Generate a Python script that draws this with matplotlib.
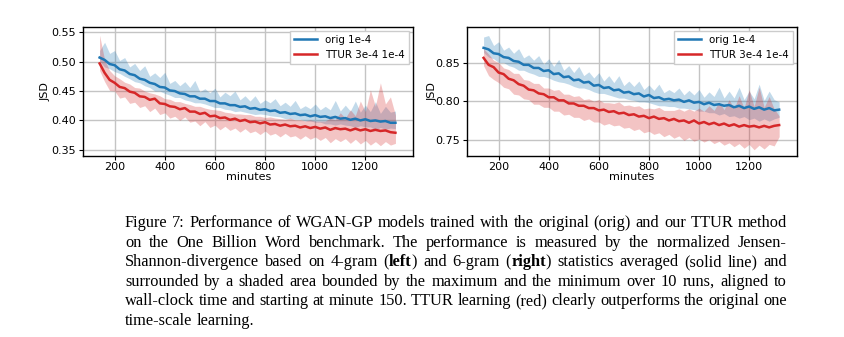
"""Recreate Figure 7: WGAN-GP JSD curves (orig vs TTUR) on One Billion Word."""

import matplotlib

matplotlib.use("Agg")
import matplotlib.pyplot as plt
from matplotlib.ticker import FormatStrFormatter


W, H = 845, 337

# minutes after start of training (wall-clock), one sample every 20 min
minutes = list(range(140, 1321, 20))

# ---- left panel: 4-gram JSD ----
orig4_mean = [0.507, 0.503, 0.496, 0.494, 0.487, 0.485, 0.479, 0.477, 0.471, 0.469,
              0.464, 0.462, 0.457, 0.456, 0.451, 0.450, 0.446, 0.445, 0.441, 0.441,
              0.437, 0.437, 0.433, 0.433, 0.429, 0.429, 0.426, 0.426, 0.423, 0.424,
              0.420, 0.421, 0.418, 0.419, 0.416, 0.417, 0.413, 0.414, 0.411, 0.412,
              0.409, 0.410, 0.407, 0.409, 0.406, 0.407, 0.404, 0.406, 0.403, 0.404,
              0.401, 0.403, 0.400, 0.402, 0.399, 0.400, 0.398, 0.399, 0.396, 0.396]
orig4_max = [0.519, 0.533, 0.514, 0.519, 0.502, 0.507, 0.491, 0.497, 0.485, 0.493,
             0.475, 0.481, 0.473, 0.482, 0.463, 0.468, 0.459, 0.466, 0.456, 0.468,
             0.449, 0.454, 0.447, 0.455, 0.440, 0.448, 0.442, 0.450, 0.435, 0.442,
             0.433, 0.442, 0.429, 0.435, 0.430, 0.437, 0.425, 0.431, 0.424, 0.434,
             0.420, 0.425, 0.420, 0.428, 0.418, 0.424, 0.418, 0.434, 0.416, 0.426,
             0.416, 0.433, 0.414, 0.426, 0.415, 0.432, 0.412, 0.424, 0.414, 0.416]
orig4_min = [0.501, 0.491, 0.488, 0.483, 0.480, 0.475, 0.471, 0.466, 0.464, 0.459,
             0.456, 0.450, 0.450, 0.446, 0.443, 0.439, 0.439, 0.435, 0.433, 0.430,
             0.430, 0.428, 0.425, 0.422, 0.422, 0.419, 0.418, 0.415, 0.416, 0.414,
             0.412, 0.410, 0.411, 0.410, 0.408, 0.407, 0.406, 0.403, 0.403, 0.402,
             0.402, 0.399, 0.399, 0.397, 0.397, 0.394, 0.394, 0.392, 0.394, 0.392,
             0.391, 0.388, 0.391, 0.389, 0.389, 0.384, 0.388, 0.385, 0.387, 0.386]
ttur4_mean = [0.497, 0.481, 0.469, 0.464, 0.457, 0.455, 0.449, 0.447, 0.441, 0.440,
              0.435, 0.437, 0.429, 0.428, 0.424, 0.423, 0.419, 0.421, 0.415, 0.415,
              0.411, 0.413, 0.407, 0.408, 0.404, 0.405, 0.401, 0.403, 0.399, 0.401,
              0.397, 0.398, 0.395, 0.397, 0.393, 0.394, 0.391, 0.393, 0.390, 0.391,
              0.388, 0.390, 0.387, 0.389, 0.386, 0.388, 0.384, 0.387, 0.385, 0.386,
              0.383, 0.386, 0.383, 0.385, 0.382, 0.384, 0.382, 0.383, 0.380, 0.379]
ttur4_max = [0.545, 0.503, 0.485, 0.476, 0.471, 0.465, 0.462, 0.456, 0.455, 0.450,
             0.447, 0.445, 0.442, 0.437, 0.436, 0.432, 0.432, 0.429, 0.427, 0.424,
             0.424, 0.421, 0.419, 0.418, 0.417, 0.414, 0.413, 0.411, 0.411, 0.410,
             0.410, 0.407, 0.407, 0.405, 0.406, 0.404, 0.403, 0.402, 0.404, 0.401,
             0.401, 0.399, 0.401, 0.399, 0.399, 0.399, 0.404, 0.401, 0.413, 0.404,
             0.418, 0.408, 0.433, 0.415, 0.452, 0.424, 0.464, 0.428, 0.440, 0.409]
ttur4_min = [0.485, 0.466, 0.451, 0.450, 0.438, 0.440, 0.429, 0.431, 0.422, 0.425,
             0.415, 0.421, 0.410, 0.413, 0.404, 0.407, 0.400, 0.406, 0.397, 0.399,
             0.391, 0.398, 0.388, 0.392, 0.384, 0.390, 0.383, 0.387, 0.380, 0.386,
             0.379, 0.382, 0.376, 0.382, 0.375, 0.378, 0.372, 0.378, 0.372, 0.374,
             0.368, 0.374, 0.368, 0.372, 0.366, 0.371, 0.362, 0.369, 0.364, 0.369,
             0.361, 0.368, 0.360, 0.366, 0.358, 0.364, 0.357, 0.364, 0.358, 0.361]

# ---- right panel: 6-gram JSD ----
orig6_mean = [0.869, 0.867, 0.862, 0.861, 0.857, 0.856, 0.852, 0.851, 0.847, 0.847,
              0.843, 0.843, 0.839, 0.840, 0.835, 0.836, 0.831, 0.832, 0.827, 0.828,
              0.824, 0.825, 0.820, 0.821, 0.817, 0.818, 0.814, 0.815, 0.811, 0.812,
              0.809, 0.810, 0.806, 0.808, 0.804, 0.805, 0.802, 0.803, 0.801, 0.802,
              0.799, 0.801, 0.798, 0.799, 0.796, 0.798, 0.795, 0.796, 0.794, 0.795,
              0.792, 0.794, 0.791, 0.793, 0.790, 0.792, 0.789, 0.791, 0.788, 0.789]
orig6_max = [0.883, 0.885, 0.872, 0.877, 0.866, 0.870, 0.862, 0.868, 0.856, 0.860,
             0.853, 0.859, 0.848, 0.855, 0.845, 0.854, 0.840, 0.846, 0.837, 0.845,
             0.833, 0.838, 0.830, 0.837, 0.826, 0.833, 0.824, 0.833, 0.820, 0.826,
             0.819, 0.826, 0.815, 0.821, 0.814, 0.822, 0.811, 0.815, 0.811, 0.817,
             0.808, 0.814, 0.808, 0.815, 0.805, 0.812, 0.806, 0.818, 0.804, 0.813,
             0.804, 0.818, 0.802, 0.813, 0.803, 0.822, 0.801, 0.813, 0.802, 0.799]
orig6_min = [0.863, 0.857, 0.855, 0.850, 0.850, 0.846, 0.844, 0.840, 0.840, 0.837,
             0.835, 0.832, 0.832, 0.830, 0.827, 0.825, 0.824, 0.822, 0.819, 0.817,
             0.817, 0.815, 0.812, 0.810, 0.810, 0.808, 0.806, 0.804, 0.804, 0.802,
             0.801, 0.799, 0.799, 0.798, 0.796, 0.794, 0.794, 0.793, 0.793, 0.791,
             0.791, 0.790, 0.789, 0.787, 0.787, 0.785, 0.785, 0.782, 0.784, 0.780,
             0.781, 0.778, 0.780, 0.776, 0.778, 0.774, 0.777, 0.774, 0.777, 0.779]
ttur6_mean = [0.856, 0.847, 0.844, 0.837, 0.835, 0.829, 0.827, 0.822, 0.820, 0.815,
              0.814, 0.810, 0.809, 0.805, 0.805, 0.801, 0.801, 0.797, 0.797, 0.794,
              0.794, 0.791, 0.791, 0.788, 0.789, 0.786, 0.787, 0.784, 0.785, 0.782,
              0.783, 0.780, 0.781, 0.778, 0.780, 0.777, 0.778, 0.775, 0.777, 0.774,
              0.775, 0.772, 0.775, 0.771, 0.773, 0.770, 0.772, 0.769, 0.771, 0.768,
              0.770, 0.767, 0.769, 0.767, 0.768, 0.766, 0.768, 0.766, 0.768, 0.769]
ttur6_max = [0.868, 0.861, 0.853, 0.850, 0.843, 0.841, 0.836, 0.836, 0.828, 0.827,
             0.823, 0.823, 0.817, 0.817, 0.814, 0.815, 0.809, 0.809, 0.806, 0.807,
             0.802, 0.803, 0.800, 0.802, 0.798, 0.798, 0.797, 0.799, 0.794, 0.795,
             0.793, 0.794, 0.790, 0.791, 0.790, 0.792, 0.788, 0.788, 0.788, 0.790,
             0.787, 0.790, 0.787, 0.791, 0.787, 0.794, 0.788, 0.799, 0.789, 0.802,
             0.790, 0.807, 0.791, 0.815, 0.793, 0.818, 0.792, 0.806, 0.790, 0.781]
ttur6_min = [0.846, 0.833, 0.828, 0.824, 0.818, 0.816, 0.809, 0.808, 0.803, 0.802,
             0.796, 0.796, 0.792, 0.792, 0.787, 0.787, 0.782, 0.783, 0.779, 0.779,
             0.775, 0.777, 0.773, 0.773, 0.769, 0.771, 0.768, 0.769, 0.765, 0.766,
             0.762, 0.764, 0.759, 0.761, 0.757, 0.759, 0.754, 0.757, 0.752, 0.755,
             0.749, 0.753, 0.748, 0.751, 0.747, 0.750, 0.745, 0.748, 0.743, 0.746,
             0.741, 0.745, 0.739, 0.744, 0.737, 0.743, 0.738, 0.744, 0.742, 0.754]

series_labels = ["orig 1e-4", "TTUR 3e-4 1e-4"]
x_ticks = [200, 400, 600, 800, 1000, 1200]
left_y_ticks = [0.35, 0.40, 0.45, 0.50, 0.55]
right_y_ticks = [0.75, 0.80, 0.85]

caption_lines = [
    "Figure 7: Performance of WGAN-GP models trained with the original (orig) and our TTUR method",
    "on the One Billion Word benchmark.  The performance is measured by the normalized Jensen-",
    "Shannon-divergence based on 4-gram (**left**) and 6-gram (**right**) statistics averaged (solid line) and",
    "surrounded by a shaded area bounded by the maximum and the minimum over 10 runs, aligned to",
    "wall-clock time and starting at minute 150. TTUR learning (red) clearly outperforms the original one",
    "time-scale learning.",
]

BLUE = "#1f77b4"
RED = "#d62728"
SERIF = "Liberation Serif"


def px_axes(fig, x0, y0, x1, y1):
    return fig.add_axes([x0 / W, 1 - y1 / H, (x1 - x0) / W, (y1 - y0) / H])


def draw_panel(ax, series, ylim, yticks, ylabelpad):
    for (mean, lo, hi), color, label in zip(series, [BLUE, RED], series_labels):
        ax.fill_between(minutes, lo, hi, color=color, alpha=0.27, linewidth=0)
        ax.plot(minutes, mean, color=color, linewidth=1.8, label=label)
    ax.set_xlim(75, 1390)
    ax.set_ylim(*ylim)
    ax.set_xticks(x_ticks)
    ax.set_yticks(yticks)
    ax.yaxis.set_major_formatter(FormatStrFormatter("%.2f"))
    ax.grid(True, color="#c4c4c4", linewidth=1.0)
    ax.set_axisbelow(True)
    ax.tick_params(labelsize=8.0, length=3, width=0.8, pad=2)
    for spine in ax.spines.values():
        spine.set_linewidth(1.0)
    ax.set_xlabel("minutes", fontsize=8.0, labelpad=0)
    ax.set_ylabel("JSD", fontsize=8.0, labelpad=ylabelpad)
    ax.legend(loc="upper right", fontsize=7.4, framealpha=1.0, borderaxespad=0.4,
              handlelength=2.2, edgecolor="#cccccc", fancybox=False)


def split_words(line):
    words = []
    for word in line.split():
        segs = [(part, i % 2 == 1) for i, part in enumerate(word.split("**")) if part]
        words.append(segs)
    return words


def measure(fig, renderer, text, size, bold=False):
    t = fig.text(0, 0, text, fontsize=size, family=SERIF,
                 fontweight="bold" if bold else "normal")
    width = t.get_window_extent(renderer).width
    t.remove()
    return width


def draw_caption(fig, lines, x0, x1, y_first, dy):
    renderer = fig.canvas.get_renderer()
    # pick the size at which the widest full line just fills the column
    widest = 0.0
    for line in lines[:-1]:
        w = sum(measure(fig, renderer, p, 10, b) for segs in split_words(line) for p, b in segs)
        w += (len(split_words(line)) - 1) * (
            measure(fig, renderer, "a b", 10) - measure(fig, renderer, "ab", 10))
        widest = max(widest, w)
    size = 10 * (x1 - x0) / widest
    natural_gap = measure(fig, renderer, "a b", size) - measure(fig, renderer, "ab", size)

    for k, line in enumerate(lines):
        y = 1 - (y_first + k * dy) / H
        words = split_words(line)
        placed, widths = [], []
        for segs in words:
            texts, w = [], 0.0
            for part, bold in segs:
                t = fig.text(0, y, part, fontsize=size, family=SERIF,
                             fontweight="bold" if bold else "normal", va="baseline")
                texts.append((t, w))
                w += t.get_window_extent(renderer).width
            placed.append(texts)
            widths.append(w)
        if k < len(lines) - 1:
            gap = (x1 - x0 - sum(widths)) / (len(words) - 1)
        else:
            gap = natural_gap
        x = x0
        for texts, w in zip(placed, widths):
            for t, off in texts:
                t.set_x((x + off) / W)
            x += w + gap


def main() -> None:
    fig = plt.figure(figsize=(W / 100, H / 100), dpi=100)

    ax_left = px_axes(fig, 83.3, 26.7, 413.0, 155.5)
    draw_panel(
        ax_left,
        [(orig4_mean, orig4_min, orig4_max), (ttur4_mean, ttur4_min, ttur4_max)],
        (0.3403, 0.5595), left_y_ticks, 0.5,
    )
    ax_right = px_axes(fig, 467.3, 26.7, 796.7, 155.5)
    draw_panel(
        ax_right,
        [(orig6_mean, orig6_min, orig6_max), (ttur6_mean, ttur6_min, ttur6_max)],
        (0.7296, 0.8964), right_y_ticks, -1.5,
    )

    fig.canvas.draw()
    draw_caption(fig, caption_lines, 125, 787, 227, 19.6)

    fig.savefig("out.png", dpi=100)
    plt.close(fig)


if __name__ == "__main__":
    main()
